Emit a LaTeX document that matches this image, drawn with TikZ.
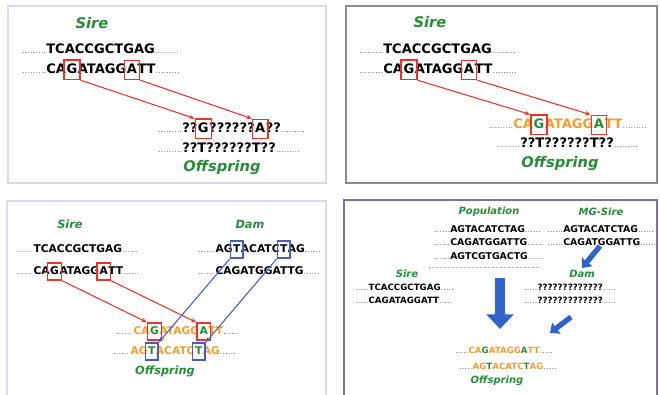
\documentclass[tikz,border=0pt]{standalone}
\usepackage{fontspec}
\setmainfont{DejaVu Sans}
\usetikzlibrary{positioning,fit,arrows.meta}

\definecolor{lblgreen}{RGB}{40,140,55}
\definecolor{seqorange}{RGB}{242,158,45}
\definecolor{boxred}{RGB}{232,52,40}
\definecolor{boxblue}{RGB}{72,92,190}
\definecolor{fatblue}{RGB}{48,98,200}

% runs of small grey dots before and after a sequence
\newcommand{\lddots}[1][18pt]{{\fontsize{6pt}{6pt}\selectfont\mdseries\color{black!55}\makebox[#1]{\leaders\hbox to 2pt{\hss.\hss}\hfill}}}
\newcommand{\trdots}[1][18pt]{\lddots[#1]}

\tikzset{
  lbl/.style={font=\bfseries\itshape\fontsize{11pt}{11pt}\selectfont, text=lblgreen, inner sep=0pt},
  midlbl/.style={lbl, font=\bfseries\itshape\fontsize{8.5pt}{8.5pt}\selectfont},
  smalllbl/.style={lbl, font=\bfseries\itshape\fontsize{7.5pt}{7.5pt}\selectfont},
  bigseq/.style={font=\bfseries\fontsize{9.8pt}{9.8pt}\selectfont, inner sep=0pt, text depth=2.5pt, anchor=base west},
  midseq/.style={bigseq, font=\bfseries\fontsize{8pt}{8pt}\selectfont, text depth=2.2pt},
  smallseq/.style={bigseq, font=\bfseries\fontsize{7pt}{7pt}\selectfont},
  tinyseq/.style={bigseq, font=\bfseries\fontsize{6.5pt}{6.5pt}\selectfont},
  redbox/.style={draw=boxred, line width=1pt, inner xsep=1.8pt, inner ysep=2.2pt},
  bluebox/.style={redbox, draw=boxblue},
  redline/.style={draw=boxred, line width=0.8pt, -{Stealth[length=4pt,width=3.2pt]}},
  blueline/.style={draw=boxblue, line width=0.8pt, -{Stealth[length=4pt,width=3.2pt]}},
  fatarrow/.style={draw=fatblue, line width=8pt, -{Triangle[length=11pt,width=20pt]}},
  midarrow/.style={draw=fatblue, line width=4pt, -{Triangle[length=6pt,width=10pt]}},
  panel/.style={draw=black!20!blue!15, line width=0.8pt},
}

\begin{document}
\begin{tikzpicture}[x=0.75pt,y=-0.75pt]
\useasboundingbox (0,0) rectangle (660,394);
\clip (0,0) rectangle (660,394);

% the four panels
\draw[panel] (8,6) rectangle (326,183);
\draw[panel, draw=black!45] (346,6) rectangle (657,183);
\draw[panel] (7,201) rectangle (326,400);
\draw[panel, draw=blue!40!black!55] (344,200) rectangle (657,400);

% top left: sire and ungenotyped offspring
\node[lbl] (tlsire) at (92,23) {Sire};
\node[bigseq] (tl1) at (22,53) {\lddots TCACCGCTGAG\trdots};
\node[bigseq] (tl2a) at (22,73) {\lddots CA};
\node[bigseq] (tlG) at (tl2a.base east) {G};
\node[bigseq] (tl2b) at (tlG.base east) {ATAGG};
\node[bigseq] (tlA) at (tl2b.base east) {A};
\node[bigseq] (tl2c) at (tlA.base east) {TT\trdots};
\node[bigseq] (to1a) at (158,132) {\lddots ??};
\node[bigseq] (toG) at (to1a.base east) {G};
\node[bigseq] (to1b) at (toG.base east) {??????};
\node[bigseq] (toA) at (to1b.base east) {A};
\node[bigseq] (to1c) at (toA.base east) {??\trdots};
\node[bigseq] (to2) at (158,152) {\lddots ??T??????T??\trdots};
\node[lbl] (tloff) at (222,168) {Offspring};
\node[redbox, fit=(tlG)] (tlGb) {};
\node[redbox, fit=(tlA)] (tlAb) {};
\node[redbox, fit=(toG)] (toGb) {};
\node[redbox, fit=(toA)] (toAb) {};
\draw[redline] (tlGb.south east) -- (toGb.north west);
\draw[redline] (tlAb.south east) -- (toAb.north west);

% top right: sire haplotype filled in
\node[lbl] (trsire) at (430,22) {Sire};
\node[bigseq] (tr1) at (359,53) {\lddots TCACCGCTGAG\trdots};
\node[bigseq] (tr2a) at (359,73) {\lddots CA};
\node[bigseq] (trG) at (tr2a.base east) {G};
\node[bigseq] (tr2b) at (trG.base east) {ATAGG};
\node[bigseq] (trA) at (tr2b.base east) {A};
\node[bigseq] (tr2c) at (trA.base east) {TT\trdots};
\node[bigseq, text=seqorange] (ro1a) at (489,128) {\lddots CA};
\node[bigseq, text=lblgreen] (roG) at (ro1a.base east) {G};
\node[bigseq, text=seqorange] (ro1b) at (roG.base east) {ATAGG};
\node[bigseq, text=lblgreen] (roA) at (ro1b.base east) {A};
\node[bigseq, text=seqorange] (ro1c) at (roA.base east) {TT\trdots};
\node[bigseq] (ro2) at (496,147) {\lddots ??T??????T??\trdots};
\node[lbl] (troff) at (560,164) {Offspring};
\node[redbox, fit=(trG)] (trGb) {};
\node[redbox, fit=(trA)] (trAb) {};
\node[redbox, fit=(roG)] (roGb) {};
\node[redbox, fit=(roA)] (roAb) {};
\draw[redline] (trGb.south east) -- (roGb.north west);
\draw[redline] (trAb.south east) -- (roAb.north west);

% bottom left: sire and dam
\node[midlbl] (blsire) at (70,224) {Sire};
\node[midlbl] (bldam) at (250,224) {Dam};
\node[midseq] (bl1) at (16,252) {\lddots[13pt]TCACCGCTGAG\trdots[13pt]};
\node[midseq] (bl2a) at (16,274) {\lddots[13pt]CA};
\node[midseq] (blG) at (bl2a.base east) {G};
\node[midseq] (bl2b) at (blG.base east) {ATAGG};
\node[midseq] (blA) at (bl2b.base east) {A};
\node[midseq] (bl2c) at (blA.base east) {TT\trdots[13pt]};
\node[midseq] (bd1a) at (198,252) {\lddots[13pt]AG};
\node[midseq] (bdT) at (bd1a.base east) {T};
\node[midseq] (bd1b) at (bdT.base east) {ACATC};
\node[midseq] (bdU) at (bd1b.base east) {T};
\node[midseq] (bd1c) at (bdU.base east) {AG\trdots[13pt]};
\node[midseq] (bd2) at (198,274) {\lddots[13pt]CAGATGGATTG\trdots[13pt]};
\node[midseq, text=seqorange] (bo1a) at (116,334) {\lddots[13pt]CA};
\node[midseq, text=lblgreen] (boG) at (bo1a.base east) {G};
\node[midseq, text=seqorange] (bo1b) at (boG.base east) {ATAGG};
\node[midseq, text=lblgreen] (boA) at (bo1b.base east) {A};
\node[midseq, text=seqorange] (bo1c) at (boA.base east) {TT\trdots[13pt]};
\node[midseq, text=seqorange] (bo2a) at (113,354) {\lddots[13pt]AG};
\node[midseq, text=lblgreen] (boT) at (bo2a.base east) {T};
\node[midseq, text=seqorange] (bo2b) at (boT.base east) {ACATC};
\node[midseq, text=lblgreen] (boU) at (bo2b.base east) {T};
\node[midseq, text=seqorange] (bo2c) at (boU.base east) {AG\trdots[13pt]};
\node[midlbl] (bloff) at (165,371) {Offspring};
\node[redbox, fit=(blG)] (blGb) {};
\node[redbox, fit=(blA)] (blAb) {};
\node[bluebox, fit=(bdT)] (bdTb) {};
\node[bluebox, fit=(bdU)] (bdUb) {};
\node[redbox, fit=(boG)] (boGb) {};
\node[redbox, fit=(boA)] (boAb) {};
\node[bluebox, fit=(boT)] (boTb) {};
\node[bluebox, fit=(boU)] (boUb) {};
\draw[redline] (blGb.south east) -- (boGb.north west);
\draw[redline] (blAb.south east) -- (boAb.north west);
\draw[blueline] (bdTb.south west) -- (boTb.north east);
\draw[blueline] (bdUb.south west) -- (boUb.north east);

% bottom right: population and maternal grand sire
\node[smalllbl] (brpop) at (489,212) {Population};
\node[smalllbl] (brmgs) at (601,212) {MG-Sire};
\node[smallseq] (bp1) at (434,232) {\lddots[12pt]AGTACATCTAG\trdots[12pt]};
\node[smallseq] (bp2) at (434,245) {\lddots[12pt]CAGATGGATTG\trdots[12pt]};
\node[smallseq] (bp3) at (434,259) {\lddots[12pt]AGTCGTGACTG\trdots[12pt]};
\node[inner sep=0pt] (bp4) at (485,268) {\lddots[85pt]};
\node[smallseq] (bm1) at (547,232) {\lddots[12pt]AGTACATCTAG\trdots[12pt]};
\node[smallseq] (bm2) at (547,245) {\lddots[12pt]CAGATGGATTG\trdots[12pt]};
\node[smalllbl] (brsire) at (407,274) {Sire};
\node[smalllbl] (brdam) at (582,274) {Dam};
\node[tinyseq] (bs1) at (355,290) {\lddots[10pt]TCACCGCTGAG\trdots[10pt]};
\node[tinyseq] (bs2) at (355,303) {\lddots[10pt]CAGATAGGATT\trdots[10pt]};
\node[tinyseq] (bq1) at (524,290) {\lddots[10pt]?????????????\trdots[10pt]};
\node[tinyseq] (bq2) at (524,303) {\lddots[10pt]?????????????\trdots[10pt]};
\node[tinyseq, text=seqorange] (bf1) at (455,353) {\lddots[10pt]CA\textcolor{lblgreen}{G}ATAGG\textcolor{lblgreen}{A}TT\trdots[10pt]};
\node[tinyseq, text=seqorange] (bf2) at (459,369) {\lddots[10pt]AG\textcolor{lblgreen}{T}ACATC\textcolor{lblgreen}{T}AG\trdots[10pt]};
\node[smalllbl] (broff) at (497,381) {Offspring};
\coordinate (bigtop) at (500,278);
\coordinate (bigtip) at (500,329);
\coordinate (mgtop) at (600,246);
\coordinate (mgtip) at (582,268);
\coordinate (damtop) at (571,317);
\coordinate (damtip) at (550,333);
\draw[fatarrow] (bigtop) -- (bigtip);
\draw[midarrow] (mgtop) -- (mgtip);
\draw[midarrow] (damtop) -- (damtip);
\end{tikzpicture}
\end{document}
